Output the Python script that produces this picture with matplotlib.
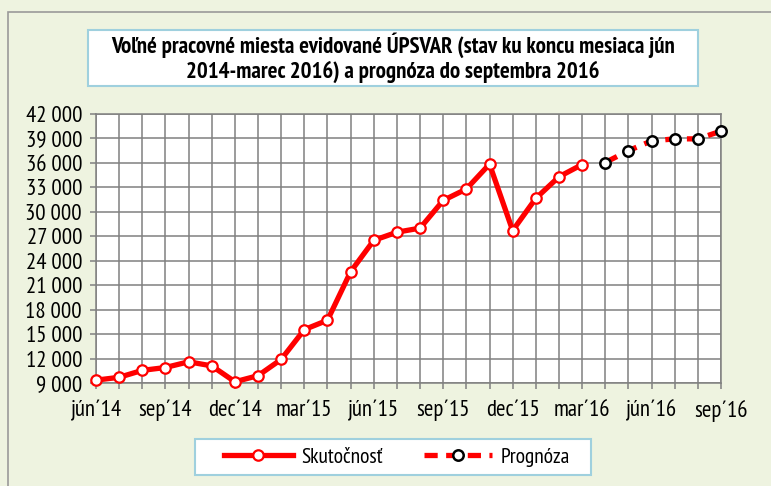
import matplotlib
matplotlib.use('Agg')
import matplotlib.pyplot as plt
from matplotlib.patches import Rectangle
from matplotlib.ticker import FuncFormatter, MultipleLocator

# monthly data jún 2014 - sep 2016
months = ['jún´14', 'júl´14', 'aug´14', 'sep´14', 'okt´14', 'nov´14', 'dec´14',
          'jan´15', 'feb´15', 'mar´15', 'apr´15', 'máj´15', 'jún´15', 'júl´15',
          'aug´15', 'sep´15', 'okt´15', 'nov´15', 'dec´15', 'jan´16', 'feb´16',
          'mar´16', 'apr´16', 'máj´16', 'jún´16', 'júl´16', 'aug´16', 'sep´16']
actual = [9350, 9700, 10550, 10900, 11600, 11100, 9150, 9900, 11900, 15550,
          16700, 22650, 26500, 27500, 28000, 31400, 32800, 35850, 27700, 31650,
          34300, 35800]
forecast = [36050, 37500, 38700, 38950, 38950, 39900]

plt.rcParams['font.family'] = ['PT Sans Narrow', 'Liberation Sans', 'DejaVu Sans']

fig = plt.figure(figsize=(7.71, 4.86), dpi=100)
fig.patch.set_facecolor('#eef3e0')
fig.patches.append(Rectangle((8 / 771, -0.1), 1.2, 1 - 12 / 486 + 0.1, transform=fig.transFigure,
                             fill=False, edgecolor='#9a9a9a', linewidth=1.2))

ax = fig.add_axes([96 / 771, 1 - 383 / 486, 625 / 771, 269 / 486])
ax.set_facecolor('white')

x_act = list(range(len(actual)))
x_fc = list(range(len(actual), len(actual) + len(forecast)))

ax.plot(x_act, actual, color='#ff0000', lw=3.8, marker='o', ms=7.5,
        mfc='white', mec='#ff0000', mew=1.6, clip_on=False, zorder=3, label='Skutočnosť')
ax.plot(x_fc, forecast, color='#ff0000', lw=3.8, dashes=(2.5, 1.6), marker='o', ms=7.5,
        mfc='white', mec='black', mew=1.8, clip_on=False, zorder=3, label='Prognóza')

ax.set_xlim(0, len(months) - 1)
ax.set_ylim(9000, 42000)
ax.yaxis.set_major_locator(MultipleLocator(3000))
ax.yaxis.set_major_formatter(FuncFormatter(lambda v, p: f'{int(v):,}'.replace(',', ' ')))
ax.set_xticks(range(len(months)))
ax.set_xticklabels([m if i % 3 == 0 else '' for i, m in enumerate(months)])
ax.grid(True, color='#808080', lw=1.1)
ax.set_axisbelow(True)
for s in ax.spines.values():
    s.set_color('#808080')
    s.set_linewidth(1.1)
ax.tick_params(colors='#808080', labelcolor='black', labelsize=16.5, length=4, width=1.1)
ax.tick_params(axis='x', pad=8)
ax.tick_params(axis='y', pad=6)

# title box
fig.patches.append(Rectangle((88 / 771, 1 - 86 / 486), 610 / 771, 56 / 486, transform=fig.transFigure,
                             facecolor='white', edgecolor='#9fd0de', linewidth=1.5))
fig.text(393 / 771, 1 - 58 / 486,
         'Voľné pracovné miesta evidované ÚPSVAR (stav ku koncu mesiaca jún\n2014-marec 2016) a prognóza do septembra 2016',
         ha='center', va='center', fontsize=16.5, fontweight='bold', linespacing=1.15)

# legend box
fig.patches.append(Rectangle((195 / 771, 1 - 475 / 486), 396 / 771, 36 / 486, transform=fig.transFigure,
                             facecolor='white', edgecolor='#9fd0de', linewidth=1.5))
leg = fig.legend(loc='center', bbox_to_anchor=(397 / 771, 1 - 457 / 486), ncol=2,
                 fontsize=15.5, handlelength=3.2, numpoints=1, frameon=False,
                 borderpad=0.2, columnspacing=1.9, handletextpad=0.4, borderaxespad=0)

fig.savefig('out.png', dpi=100, facecolor=fig.get_facecolor())
